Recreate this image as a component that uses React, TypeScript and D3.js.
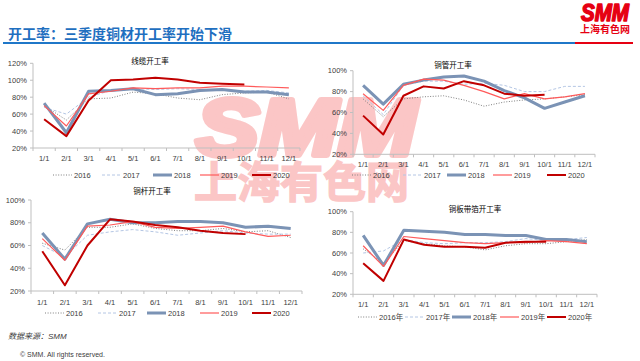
import React from 'react';
import * as d3 from 'd3';

// categories shared by all four charts
const months = ['1/1', '2/1', '3/1', '4/1', '5/1', '6/1', '7/1', '8/1', '9/1', '10/1', '11/1', '12/1'];
const years = ['2016', '2017', '2018', '2019', '2020'];

// 线缆开工率
const cable2016 = [70, 53, 78, 79, 86, 84, 79, 77, 83, 85, 86, 78];
const cable2017 = [68, 60, 80, 88, 90, 89, 90, 89, 88, 87, 88, 85];
const cable2018 = [73, 38, 87, 88, 90, 83, 84, 88, 89, 86, 86, 83];
const cable2019 = [70, 46, 84, 87, 91, 90, 91, 91, 93, 93, 92, 91];
const cable2020 = [54, 34, 76, 100, 101, 103, 101, 97, 96, 95];

// 铜管开工率
const tube2016 = [73, 56, 73, 75, 76, 72, 66, 70, 72, 73, 75, 77];
const tube2017 = [76, 58, 86, 90, 90, 87, 88, 86, 80, 80, 85, 85];
const tube2018 = [86, 68, 87, 91, 94, 95, 90, 81, 74, 64, 70, 76];
const tube2019 = [78, 62, 86, 92, 91, 86, 80, 73, 78, 73, 75, 78];
const tube2020 = [57, 39, 76, 85, 83, 90, 86, 78, 76, 77];

// 铜杆开工率
const rod2016 = [62, 56, 76, 76, 79, 75, 73, 73, 75, 72, 73, 67];
const rod2017 = [60, 50, 69, 72, 74, 72, 69, 71, 73, 71, 70, 70];
const rod2018 = [71, 48, 79, 83, 80, 80, 81, 81, 80, 76, 77, 75];
const rod2019 = [66, 47, 77, 78, 81, 76, 75, 76, 77, 72, 68, 69];
const rod2020 = [55, 25, 60, 83, 81, 78, 76, 73, 71, 70];

// 铜板带箔开工率
const sheet2016 = [64, 50, 72, 69, 67, 66, 63, 67, 69, 69, 71, 73];
const sheet2017 = [60, 62, 73, 70, 69, 70, 70, 71, 74, 72, 73, 75];
const sheet2018 = [77, 48, 82, 81, 80, 78, 78, 77, 77, 73, 73, 71];
const sheet2019 = [67, 47, 76, 74, 72, 70, 69, 70, 70, 72, 71, 69];
const sheet2020 = [50, 33, 73, 68, 66, 66, 65, 70, 71, 71];

const ticks120 = [20, 40, 60, 80, 100, 120];
const ticks100 = [20, 40, 60, 80, 100];

const seriesStyle = [
  { color: '#7f7f7f', width: 1, dash: '1,1.6' },
  { color: '#b4c6e4', width: 1, dash: '3,2' },
  { color: '#7b93b5', width: 3, dash: null },
  { color: '#ff5a5a', width: 1.2, dash: null },
  { color: '#c00000', width: 2, dash: null },
];

const FONT = '"Liberation Sans", Arial, "Noto Sans CJK SC", sans-serif';

const charts = [
  {
    title: '线缆开工率', series: [cable2016, cable2017, cable2018, cable2019, cable2020], ticks: ticks120,
    left: 33, right: 300, top: 63.3, bottom: 148, labelY: 161, legendY: 175, titleX: 150, titleY: 64,
    legendX: [53, 102, 153, 200, 252], suffix: '',
  },
  {
    title: '铜管开工率', series: [tube2016, tube2017, tube2018, tube2019, tube2020], ticks: ticks100,
    left: 353, right: 595, top: 70.7, bottom: 154.3, labelY: 167, legendY: 175, titleX: 453, titleY: 68,
    legendX: [352, 403, 447, 493, 547], suffix: '',
  },
  {
    title: '铜杆开工率', series: [rod2016, rod2017, rod2018, rod2019, rod2020], ticks: ticks100,
    left: 31, right: 302, top: 200, bottom: 291, labelY: 305, legendY: 313, titleX: 152, titleY: 194,
    legendX: [45, 98, 147, 200, 252], suffix: '',
  },
  {
    title: '铜板带箔开工率', series: [sheet2016, sheet2017, sheet2018, sheet2019, sheet2020], ticks: ticks100,
    left: 353, right: 597, top: 211.7, bottom: 294.3, labelY: 307, legendY: 317, titleX: 475, titleY: 212,
    legendX: [358, 405, 452, 500, 547], suffix: '年',
  },
];

function LineChart({ c }: { c: any }) {
  const x = d3.scaleBand().domain(months).range([c.left, c.right]);
  const y = d3.scaleLinear().domain([c.ticks[0], c.ticks[c.ticks.length - 1]]).range([c.bottom, c.top]);
  const cx = (i: number) => (x(months[i]) as number) + x.bandwidth() / 2;
  const line = d3.line<number>().x((_, i) => cx(i)).y(d => y(d));
  const bounds = months.map(m => x(m) as number).concat([c.right]);

  return (
    <g>
      <text x={c.titleX} y={c.titleY} fontSize={7.5} textAnchor="middle" fill="#000">{c.title}</text>
      {/* axes */}
      <line x1={c.left} x2={c.left} y1={c.top} y2={c.bottom} stroke="#bfbfbf" strokeWidth={1} />
      <line x1={c.left} x2={c.right} y1={c.bottom} y2={c.bottom} stroke="#bfbfbf" strokeWidth={1} />
      {c.ticks.map((t: number) => (
        <g key={t}>
          <line x1={c.left - 3} x2={c.left} y1={y(t)} y2={y(t)} stroke="#bfbfbf" />
          <text x={c.left - 6} y={y(t) + 2.7} fontSize={7.5} textAnchor="end" fill="#404040">{t}%</text>
        </g>
      ))}
      {bounds.map((b, i) => (
        <line key={i} x1={b} x2={b} y1={c.bottom} y2={c.bottom + 3} stroke="#bfbfbf" />
      ))}
      {months.map((m, i) => (
        <text key={m} x={cx(i)} y={c.labelY} fontSize={7.5} textAnchor="middle" fill="#404040">{m}</text>
      ))}
      {/* series */}
      {c.series.map((s: number[], k: number) => (
        <path key={k} d={line(s) as string} fill="none" stroke={seriesStyle[k].color}
          strokeWidth={seriesStyle[k].width} strokeDasharray={seriesStyle[k].dash || undefined}
          strokeLinejoin="round" />
      ))}
      {/* legend */}
      {years.map((yr, k) => (
        <g key={yr}>
          <line x1={c.legendX[k]} x2={c.legendX[k] + 19} y1={c.legendY} y2={c.legendY}
            stroke={seriesStyle[k].color} strokeWidth={seriesStyle[k].width}
            strokeDasharray={seriesStyle[k].dash || undefined} />
          <text x={c.legendX[k] + 21} y={c.legendY + 2.7} fontSize={7.5} fill="#404040">{yr}{c.suffix}</text>
        </g>
      ))}
    </g>
  );
}

export default function App() {
  return (
    <svg width={640} height={361} style={{ position: 'absolute', left: 0, top: 0, background: '#fff' }}
      fontFamily={FONT}>
      {/* watermark */}
      <text x={196} y={155} fontSize={80} fontWeight="bold" fontStyle="italic" fill="#fbc6c6"
        stroke="#fbc6c6" strokeWidth={6} strokeLinejoin="round"
        textLength={220} lengthAdjust="spacingAndGlyphs">SMM</text>
      <text x={194} y={198} fontSize={43} fontWeight="bold" fill="#fbc6c6" stroke="#fbc6c6" strokeWidth={1.5}
        fontFamily='"Noto Sans CJK SC", sans-serif' textLength={215} lengthAdjust="spacingAndGlyphs">上海有色网</text>

      {/* header */}
      <text x={8} y={39} fontSize={14} fontWeight="bold" fill="#1f6fc0"
        fontFamily='"Noto Sans CJK SC", sans-serif'>开工率：三季度铜材开工率开始下滑</text>
      <rect x={3} y={42} width={572} height={2} fill="#1f77c8" />
      <rect x={575} y={42} width={58} height={2} fill="#e60012" />
      <text x={581} y={21} fontSize={23} fontWeight="bold" fontStyle="italic" fill="#e60012"
        stroke="#e60012" strokeWidth={1.5} strokeLinejoin="round"
        fontFamily='"Liberation Sans", Arial, sans-serif' textLength={48} lengthAdjust="spacingAndGlyphs">SMM</text>
      <text x={580} y={33} fontSize={10} fontWeight="bold" fill="#e60012"
        fontFamily='"Noto Sans CJK SC", sans-serif' textLength={50} lengthAdjust="spacingAndGlyphs">上海有色网</text>

      {charts.map((c, i) => <LineChart key={i} c={c} />)}

      {/* footer */}
      <text x={8} y={339} fontSize={8} fontStyle="italic" fill="#404040">数据来源：SMM</text>
      <text x={20} y={357} fontSize={7} fill="#404040">© SMM. All rights reserved.</text>
    </svg>
  );
}
